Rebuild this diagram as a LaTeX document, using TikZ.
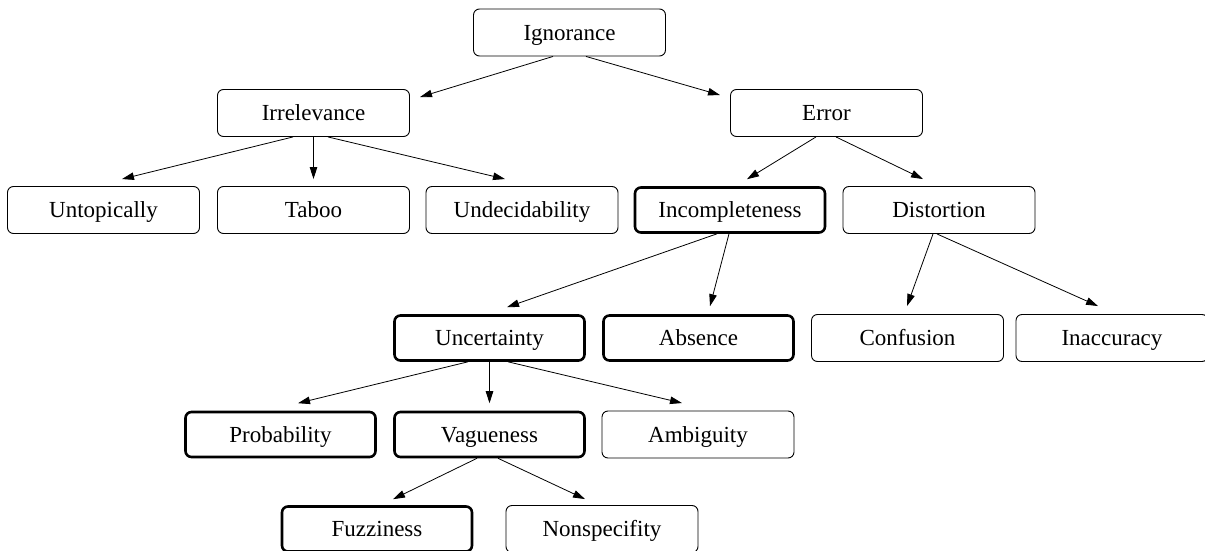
\documentclass[tikz,border=0pt]{standalone}
\usepackage{fontspec}
\setmainfont{Liberation Serif}
\usetikzlibrary{arrows.meta,calc}
\tikzset{
  box/.style={draw=black, line width=0.9pt, rounded corners=6pt, minimum width=192pt, minimum height=47pt, inner sep=0pt, text height=15.2pt, text depth=0pt, font=\fontsize{23}{27}\selectfont},
  boldbox/.style={box, line width=2.6pt, minimum width=190pt, minimum height=45pt},
  arr/.style={draw=black, line width=0.8pt, -{Triangle[length=12pt,width=7.5pt]}}
}
\begin{document}
\begin{tikzpicture}[x=1pt,y=-1pt]
\useasboundingbox (0,0) rectangle (1205,551);
\node[box] (ign) at (569.5,32.5) {Ignorance};
\node[box] (irr) at (313.5,113) {Irrelevance};
\node[box] (err) at (826.5,113) {Error};
\node[box] (unt) at (103.5,210) {Untopically};
\node[box] (tab) at (313.5,210) {Taboo};
\node[box] (und) at (522,210) {Undecidability};
\node[boldbox] (inc) at (730,210) {Incompleteness};
\node[box] (dis) at (939,210) {Distortion};
\node[boldbox] (unc) at (489.5,338) {Uncertainty};
\node[boldbox] (abs) at (698.5,338) {Absence};
\node[box] (con) at (907.5,338) {Confusion};
\node[box] (ina) at (1112,338) {Inaccuracy};
\node[boldbox] (pro) at (280.5,434.5) {Probability};
\node[boldbox] (vag) at (489.5,434.5) {Vagueness};
\node[box] (amb) at (698,434.5) {Ambiguity};
\node[boldbox] (fuz) at (377,529) {Fuzziness};
\node[box] (non) at (602,529) {Nonspecifity};

\draw[arr] ($(ign.south)+(-16.5,0)$) -- ($(irr.north)+(106.5,8)$);
\draw[arr] ($(ign.south)+(16.5,0)$) -- ($(err.north)+(-106.5,6)$);
\draw[arr] ($(irr.south)+(-20.5,0)$) -- ($(unt.north)+(18.5,-7)$);
\draw[arr] ($(irr.south)+(0,0)$) -- ($(tab.north)+(0,-7)$);
\draw[arr] ($(irr.south)+(14.5,0)$) -- ($(und.north)+(-17,-7)$);
\draw[arr] ($(err.south)+(-10.5,0)$) -- ($(inc.north)+(17,-7)$);
\draw[arr] ($(err.south)+(9.5,0)$) -- ($(dis.north)+(-16,-7)$);
\draw[arr] ($(inc.south)+(-13,0)$) -- ($(unc.north)+(17.5,-7)$);
\draw[arr] ($(inc.south)+(-1,0)$) -- ($(abs.north)+(11.5,-8)$);
\draw[arr] ($(dis.south)+(-6,0)$) -- ($(con.north)+(-0.5,-8)$);
\draw[arr] ($(dis.south)+(-2,0)$) -- ($(ina.north)+(-14,-8)$);
\draw[arr] ($(unc.south)+(-21.5,0)$) -- ($(pro.north)+(17.5,-7.5)$);
\draw[arr] ($(unc.south)+(0,0)$) -- ($(vag.north)+(0,-7.5)$);
\draw[arr] ($(unc.south)+(18.5,0)$) -- ($(amb.north)+(-16,-7.5)$);
\draw[arr] ($(vag.south)+(-12.5,0)$) -- ($(fuz.north)+(16,-6)$);
\draw[arr] ($(vag.south)+(8.5,0)$) -- ($(non.north)+(-17,-6)$);
\end{tikzpicture}
\end{document}
